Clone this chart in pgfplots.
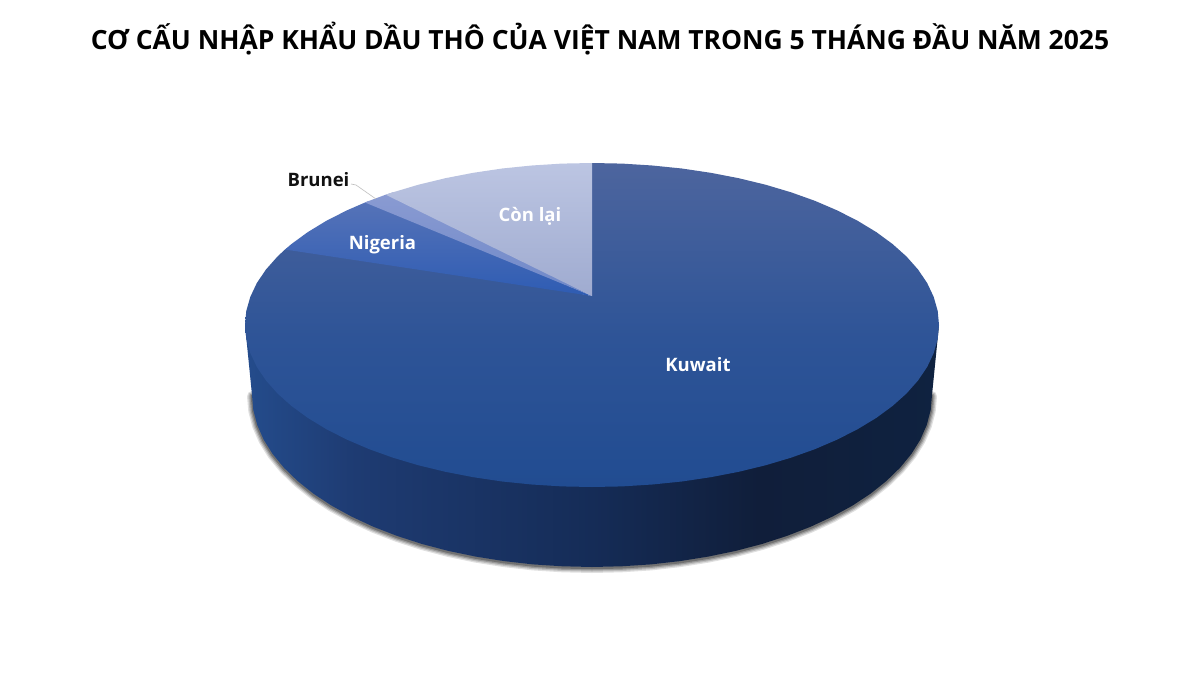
\documentclass[border=0pt]{standalone}
\usepackage{fontspec}
\setmainfont{Open Sans}
\usepackage{pgfplots}
\usepackage{pgfplotstable}
\pgfplotsset{compat=1.18}

% outlines in pixels of the reference, y running down
\pgfplotstableread{
x y
932 395
930.7 410.0
926.8 424.9
920.4 439.5
911.5 453.8
900.1 467.7
886.4 481
870.5 493.7
852.5 505.6
832.4 516.6
810.5 526.8
787.0 535.9
762 544
735.7 550.9
708.3 556.6
680 561.1
651 564.4
621.6 566.3
592 567
562.4 566.3
533 564.4
504 561.1
475.7 556.6
448.3 550.9
422 544
397 535.9
373.5 526.8
351.6 516.6
331.5 505.6
313.5 493.7
297.6 481
283.9 467.7
272.5 453.8
263.6 439.5
257.2 424.9
253.3 410
252 395
}\lowerrim

\pgfplotstableread{
x y
939 325
932 395
930.7 410.0
926.8 424.9
920.4 439.5
911.5 453.8
900.1 467.7
886.4 481
870.5 493.7
852.5 505.6
832.4 516.6
810.5 526.8
787.0 535.9
762 544
735.7 550.9
708.3 556.6
680 561.1
651 564.4
621.6 566.3
592 567
562.4 566.3
533 564.4
504 561.1
475.7 556.6
448.3 550.9
422 544
397 535.9
373.5 526.8
351.6 516.6
331.5 505.6
313.5 493.7
297.6 481
283.9 467.7
272.5 453.8
263.6 439.5
257.2 424.9
253.3 410
252 395
245 325
}\sidewall

% each slice runs a little under the one drawn after it, so no seam shows
\pgfplotstableread{
x y
592 296
589 163.1
592 163
622.2 163.6
652.3 165.5
681.8 168.5
710.7 172.8
738.7 178.2
765.5 184.7
791.0 192.3
815.1 200.9
837.4 210.5
857.8 220.9
876.3 232.1
892.5 244.0
906.5 256.5
918.1 269.6
927.2 283.1
933.7 296.9
937.7 310.9
939 325
937.7 339.1
933.7 353.1
927.2 366.9
918.1 380.4
906.5 393.5
892.5 406.0
876.3 417.9
857.8 429.1
837.4 439.5
815.1 449.1
791.0 457.7
765.5 465.3
738.7 471.8
710.7 477.2
681.8 481.5
652.3 484.5
622.2 486.4
592 487
561.8 486.4
531.7 484.5
502.2 481.5
473.3 477.2
445.4 471.8
418.5 465.3
393.0 457.7
369.0 449.1
346.6 439.5
326.2 429.1
307.8 417.9
291.5 406.0
277.5 393.5
265.9 380.4
256.8 366.9
250.3 353.1
246.3 339.1
245 325
246.3 310.9
250.3 296.9
256.8 283.1
265.9 269.6
277.5 256.5
285 249.5
300 242
}\kuwait

\pgfplotstableread{
x y
592 296
285 249.5
291.5 244.0
307.8 232.1
326.2 220.9
346.6 210.5
365 202.5
369.0 200.9
}\nigeria

\pgfplotstableread{
x y
592 296
365 202.5
369.0 200.9
385.7 194.7
393.0 192.3
}\brunei

\pgfplotstableread{
x y
592 296
385.7 194.7
393.0 192.3
418.5 184.7
445.4 178.2
473.3 172.8
502.2 168.5
531.7 165.5
561.8 163.6
592 163
}\conlai

\definecolor{kwA}{HTML}{4D659E}
\definecolor{kwB}{HTML}{2E5497}
\definecolor{kwC}{HTML}{214C91}
\pgfdeclareverticalshading{kwshade}{100bp}{
  color(0bp)=(kwC); color(25bp)=(kwC); color(48bp)=(kwB); color(75bp)=(kwA); color(100bp)=(kwA)}
\definecolor{sdA}{HTML}{244C8C}
\definecolor{sdB}{HTML}{1E3B72}
\definecolor{sdC}{HTML}{152C57}
\definecolor{sdD}{HTML}{101E3A}
\definecolor{sdE}{HTML}{0F2240}
\pgfdeclarehorizontalshading{sideshade}{100bp}{
  color(0bp)=(sdA); color(25bp)=(sdA); color(33bp)=(sdB); color(50bp)=(sdC); color(62bp)=(sdD); color(75bp)=(sdE); color(100bp)=(sdE)}
\definecolor{ngTop}{HTML}{5673B8}
\definecolor{ngMid}{HTML}{3A63B6}
\definecolor{ngBot}{HTML}{2E5CB3}
\definecolor{brTop}{HTML}{8A9BD2}
\definecolor{brBot}{HTML}{6F88C8}
\definecolor{clTop}{HTML}{BCC5E2}
\definecolor{clBot}{HTML}{9FABD0}
\definecolor{leader}{HTML}{BFBFBF}
\definecolor{nearblack}{HTML}{111111}

\begin{document}
\begin{tikzpicture}
\begin{axis}[
    scale only axis,
    width=1200pt, height=675pt,
    xmin=0, xmax=1200, ymin=0, ymax=675,
    y dir=reverse,
    hide axis,
    clip=false,
    no markers,
]
  % keep the full page
  \path[fill=white] (axis cs:0,0) rectangle (axis cs:1200,675);

  % soft shadow round the rim
  \addplot[draw=black, draw opacity=.12, line width=10pt, line join=round] table[y expr=\thisrow{y}+1] {\lowerrim} -- cycle;
  \addplot[draw=black, draw opacity=.15, line width=7.5pt, line join=round] table[y expr=\thisrow{y}+1] {\lowerrim} -- cycle;
  \addplot[draw=black, draw opacity=.2, line width=5pt, line join=round] table[y expr=\thisrow{y}+1] {\lowerrim} -- cycle;
  \addplot[draw=black, draw opacity=.25, line width=2.5pt, line join=round] table[y expr=\thisrow{y}+1] {\lowerrim} -- cycle;

  \addplot[draw=none, shade, shading=sideshade] table {\sidewall} -- cycle;

  \addplot[draw=none, shade, shading=kwshade] table {\kuwait} -- cycle;
  \addplot[draw=none, top color=ngTop, middle color=ngMid, bottom color=ngBot] table {\nigeria} -- cycle;
  \addplot[draw=none, top color=brTop, bottom color=brBot] table {\brunei} -- cycle;
  \addplot[draw=none, top color=clTop, bottom color=clBot] table {\conlai} -- cycle;

  % leader line for Brunei
  \addplot[draw=leader, line width=.6pt] coordinates {(351,184) (356,185) (376,199)};

  \node[font=\fontsize{18.5}{20}\selectfont\bfseries, text=white] at (axis cs:698,365) {Kuwait};
  \node[font=\fontsize{18.5}{20}\selectfont\bfseries, text=white] at (axis cs:382.5,245) {Nigeria};
  \node[font=\fontsize{18.5}{20}\selectfont\bfseries, text=white] at (axis cs:530,216) {Còn lại};
  \node[font=\fontsize{18.5}{20}\selectfont\bfseries, text=nearblack] at (axis cs:318.5,180) {Brunei};

  \node[font=\fontsize{26.45}{30}\selectfont\bfseries, text=black] at (axis cs:600,39) {CƠ CẤU NHẬP KHẨU DẦU THÔ CỦA VIỆT NAM TRONG 5 THÁNG ĐẦU NĂM 2025};
\end{axis}
\end{tikzpicture}
\end{document}
